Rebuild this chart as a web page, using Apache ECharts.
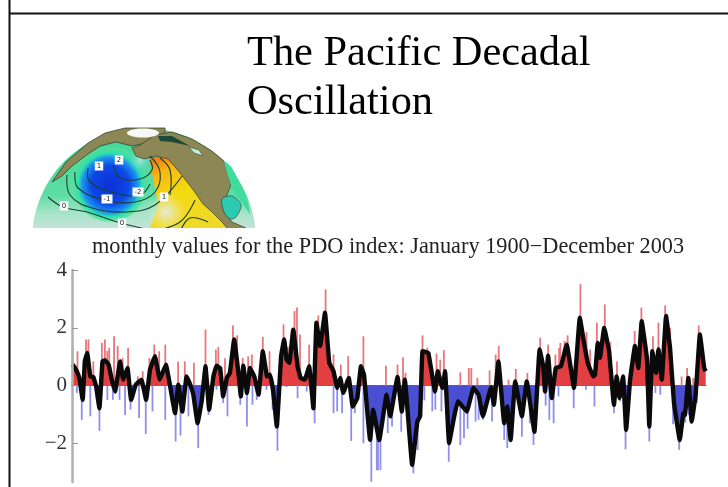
<!DOCTYPE html>
<html><head><meta charset="utf-8">
<style>html,body{margin:0;padding:0;background:#fff}#c{width:728px;height:487px}</style>
<script src="https://cdn.jsdelivr.net/npm/echarts@6/dist/echarts.min.js"></script>
</head><body><div id="c"></div>
<script>
const titleText = 'The Pacific Decadal\nOscillation';
const subtitleText = 'monthly values for the PDO index: January 1900\u2212December 2003';
const yTicks = [4, 2, 0, -2];

const smoothYears = [1900.1,1900.65,1901.2,1901.75,1902.1,1902.5,1903,1903.5,1903.95,1904.5,1905,1905.4,1906,1906.5,1907.05,1907.9,1908.4,1909.1,1909.7,1910.45,1911.4,1912.15,1912.8,1913.6,1914.4,1915.4,1916.1,1916.9,1917.45,1918.1,1918.8,1919.4,1919.9,1920.6,1921.3,1921.9,1922.5,1923.2,1923.7,1924.3,1924.8,1925.4,1925.9,1926.6,1927.3,1927.7,1928.1,1928.7,1929.2,1929.9,1930.6,1931.3,1932,1932.5,1933,1933.6,1934.3,1934.8,1935.2,1935.65,1936.3,1937,1937.5,1938.2,1938.9,1939.6,1940.1,1940.7,1941.5,1942.2,1942.9,1943.5,1944,1944.5,1945.4,1946.05,1946.8,1947.4,1947.9,1948.9,1949.4,1950.4,1951.6,1952.2,1953.4,1954.1,1954.6,1955.8,1956.65,1957.1,1957.5,1958.45,1959.55,1960,1960.75,1961.2,1961.85,1962.7,1963.3,1964.75,1965.85,1966.7,1967.4,1968.75,1969.2,1969.95,1970.9,1971.4,1971.95,1972.7,1973.8,1974.6,1975.85,1976.7,1977.3,1977.6,1978.1,1978.7,1979.35,1980.2,1981.15,1982.35,1983.3,1984,1984.6,1985.5,1985.8,1986.25,1986.6,1987.3,1988.1,1988.9,1989.35,1989.8,1990.4,1990.9,1991.55,1992.35,1992.9,1993.45,1994.3,1994.7,1995.2,1995.8,1996.2,1996.75,1997.45,1998.1,1998.75,1999.7,2000.3,2000.55,2001.1,2001.65,2002.3,2003,2003.7,2003.95];
const smoothValues = [.73,.56,.27,-.49,.84,1.13,.32,.3,-.02,-.78,.84,.88,.73,.23,-.2,.84,.21,.61,-.49,.03,.21,-.49,.56,1.02,.21,.73,-.02,-.95,.03,-.89,.32,.03,-.31,-1.3,-.49,.67,-.83,.32,.69,.61,-.37,.27,.44,1.6,.44,-.37,.69,-.25,.61,.32,-.31,1.19,.32,.38,-.2,-1.41,1.02,1.6,.9,.79,1.94,.67,.27,.21,.67,-.78,2.18,1.37,2.52,.79,.5,-.08,.27,-.25,.27,-.72,-.43,.67,.38,-1.88,-.83,-1.88,-.31,-1.06,.3,-.89,.21,-2.74,-1.24,-1.06,1.19,1.13,-.2,.5,-.08,.5,-1.99,-1.06,-.54,-.89,-.08,-.31,-1.06,-.05,-.66,.84,-1.3,-.72,-1.88,.15,-1.06,.15,-1.59,1.25,.67,-.2,1.04,-.43,.61,.67,1.42,-.08,2.35,1.48,.79,.32,.38,1.48,.96,2,1.19,-.66,.32,-.43,.32,-1.53,.21,1.37,.61,2.23,.96,-1.41,1.19,.44,1.25,.21,2.41,1.31,-.6,-1.88,-.95,-1.01,.27,-1.24,-.31,1.77,.61,.5];

const spikeUpYears = [1900.1,1900.9,1902.3,1902.7,1903.5,1904.9,1905.4,1905.8,1906.1,1906.9,1907.5,1908.3,1909.2,1910.8,1911.6,1912.7,1913.5,1914.3,1915.3,1917.4,1918.5,1920.0,1921.9,1923.6,1924.0,1925.1,1926.4,1927.1,1928.0,1928.9,1929.5,1931.3,1932.4,1934.7,1935.4,1936.5,1936.9,1937.4,1938.9,1940.4,1941.6,1942.9,1944.1,1945.3,1947.8,1951.5,1953.4,1954.3,1954.7,1957.5,1958.3,1959.8,1960.4,1961.0,1963.7,1965.1,1965.5,1966.5,1968.5,1969.5,1970.0,1971.6,1972.8,1974.7,1976.8,1978.1,1979.3,1979.9,1980.1,1980.8,1981.3,1983.4,1984.4,1985.0,1986.1,1987.4,1988.3,1989.4,1991.6,1992.3,1993.4,1993.9,1995.3,1996.2,1997.3,1998.1,2000.0,2000.9,2001.9,2002.8,2003.2];
const spikeUpValues = [1.31,1.19,1.6,1.6,.84,1.48,1.6,1.2,1.31,1.71,1.37,.96,1.31,.32,.5,.96,1.42,1.19,1.42,.84,.84,.79,1.94,1.25,1.34,.95,2.08,1.74,.96,1.02,1.08,1.69,1.19,2.12,1.35,2.58,2.7,1.77,1.42,2.43,3.33,1.08,.73,1.02,1.71,.69,.73,.98,.44,1.74,1.31,1.11,.9,1.23,.46,.61,.61,.27,.53,1.08,1.37,.21,.58,.44,1.66,1.42,1.08,1.3,1.48,1.55,1.74,3.51,1.85,1.25,2.18,2.81,1.5,.84,.61,1.89,2.7,1.75,1.71,2.18,2.78,2.0,.32,.61,.27,2.08,1.4];
const spikeDownYears = [1900.8,1901.6,1903.0,1904.5,1905.8,1906.7,1907.8,1908.7,1909.6,1911.0,1912.1,1913.2,1915.3,1917.0,1917.8,1919.1,1920.7,1922.4,1923.7,1924.8,1925.5,1927.6,1928.7,1929.6,1930.3,1931.9,1932.9,1933.7,1935.2,1937.0,1938.5,1939.8,1942.9,1943.5,1944.3,1945.8,1946.4,1947.8,1948.4,1949.1,1950.0,1950.2,1950.6,1951.8,1952.5,1954.0,1956.0,1956.7,1957.8,1959.1,1959.6,1960.6,1961.8,1962.5,1963.7,1964.3,1964.9,1966.2,1966.7,1967.4,1968.9,1970.9,1971.4,1972.1,1973.8,1975.1,1975.7,1977.7,1978.3,1979.0,1979.8,1982.3,1984.3,1985.7,1988.9,1989.9,1990.8,1994.7,1995.7,1996.5,1998.6,1999.6,2000.6,2001.2,2002.5];
const spikeDownValues = [-.25,-1.18,-1.06,-1.56,-.49,-.49,-.49,-1.01,-.83,-1.12,-1.67,-.89,-1.18,-1.93,-1.72,-1.06,-2.16,-1.01,-.14,-.6,-1.06,-.66,-1.41,-.66,-.49,-.14,-.83,-2.25,-.05,-.43,-.2,-1.3,-.95,-.89,-.95,-1.91,-.95,-1.99,-1.3,-3.32,-2.92,-2.92,-2.92,-1.64,-1.41,-1.59,-3.03,-2.22,-.51,-.89,-.83,-.89,-2.63,-1.53,-2.05,-1.82,-1.49,-1.24,-1.18,-1.18,-1.24,-1.88,-2.16,-1.93,-1.76,-1.3,-2.05,-.69,-1.18,-1.3,-.37,-.78,-.14,-.72,-.95,-.54,-2.2,-1.93,-.25,-.31,-1.33,-2.22,-1.27,-1.01,-.6];

const zip = (a, b) => a.map((v, i) => [v, b[i]]);
const smooth = zip(smoothYears, smoothValues);

const LAND = '#8d8655', CONT = '#1c3f33';
function contour(pts, w) {
  return { type:'polyline', z:5, shape:{points:pts, smooth:0.4}, style:{stroke:CONT, lineWidth:w||1.1, fill:null} };
}
function tag(x, y, t) {
  return { type:'text', z:7, x:x, y:y, style:{text:t, font:'7px "DejaVu Sans"', fill:'#223', backgroundColor:'#fff', padding:[1,2], align:'center', verticalAlign:'middle'} };
}
function grad(stops){ return { type:'radial', x:.5, y:.5, r:.5, colorStops:stops.map(s=>({offset:s[0], color:s[1]})) }; }

const globe = [
  { type:'circle', z:1, shape:{cx:144,cy:240,r:112}, style:{fill:{type:'linear',x:0,y:0,x2:0,y2:1,colorStops:[{offset:0,color:'#3fd899'},{offset:.3,color:'#5fdca4'},{offset:.38,color:'#a5e4c8'},{offset:.45,color:'#c5e3d8'},{offset:1,color:'#cfe2e2'}]}} },
  { type:'polygon', z:2, shape:{points:[[150,158],[170,158],[190,180],[215,212],[228,232],[150,232],[158,205]], smooth:0.15}, style:{fill:{type:'linear',x:0,y:0,x2:.6,y2:1,colorStops:[{offset:0,color:'#f06a10'},{offset:.22,color:'#f7b814'},{offset:.5,color:'#f4d90e'},{offset:1,color:'#efd92a'}]}} },
  { type:'ellipse', z:3, shape:{cx:166,cy:212,rx:22,ry:20}, style:{fill:grad([[0,'rgba(225,235,225,.95)'],[1,'rgba(235,235,190,0)']])} },
  { type:'ellipse', z:3, shape:{cx:110,cy:185,rx:70,ry:38}, rotation:-0.12, originX:110, originY:185, style:{fill:grad([[0,'#0a30d8'],[.5,'#0d48e4'],[.72,'#1a90ee'],[.84,'#2ee0b0'],[.94,'rgba(70,225,150,.7)'],[1,'rgba(120,230,170,0)']])} },
  { type:'ellipse', z:3, shape:{cx:140,cy:160,rx:25,ry:13}, style:{fill:grad([[0,'rgba(170,235,210,.95)'],[1,'rgba(60,200,220,0)']])} },
  { type:'polygon', z:4, shape:{points:[[52,182],[66,162],[88,143],[105,133],[125,128],[165,128],[165,140],[150,142],[132,146],[116,142],[100,146],[88,154],[72,166],[62,176]]}, style:{fill:LAND, stroke:'#243a2a', lineWidth:.7} },
  { type:'polygon', z:4, shape:{points:[[132,148],[140,145],[155,135],[172,132],[192,139],[212,151],[224,161],[231,185],[226,197],[224,212],[232,222],[246,228],[246,234],[232,234],[222,222],[212,212],[203,204],[194,191],[184,178],[176,168],[168,159],[156,156],[144,159],[136,156]]}, style:{fill:LAND, stroke:'#2c2a18', lineWidth:.6} },
  { type:'ellipse', z:5, shape:{cx:143,cy:133,rx:16,ry:4.5}, style:{fill:'#f6f8f6'} },
  { type:'polygon', z:5, shape:{points:[[222,199],[232,196],[241,205],[236,217],[230,219],[224,212]], smooth:.3}, style:{fill:'#2ccab0', stroke:'#2c3a20', lineWidth:.6} },
  { type:'polygon', z:5, shape:{points:[[224,161],[232,168],[246,196],[250,214],[243,204],[233,190]], smooth:.2}, style:{fill:'#3fdca0'} },
  { type:'polygon', z:5, shape:{points:[[189,147],[199,150],[203,156],[194,153]]}, style:{fill:'#c8ecd8', stroke:'#1a3a2a', lineWidth:.5} },
  { type:'polygon', z:5, shape:{points:[[158,136],[172,136],[190,146],[172,142],[160,141]]}, style:{fill:'#1c4a38'} },
  contour([[48,197],[63,207],[87,212],[117,222],[150,230]]),
  contour([[67,175],[70,195],[92,208],[125,212],[155,205],[182,176]]),
  contour([[75,172],[78,188],[105,200],[135,202],[155,192],[160,172],[150,156]]),
  contour([[88,168],[90,182],[115,193],[140,195],[150,184]]),
  contour([[113,165],[120,178],[140,179],[152,170],[150,160]]),
  contour([[150,232],[180,222],[195,200]]),
  contour([[180,232],[190,218],[208,222]]),
  contour([[160,158],[170,170],[170,195]]),
  tag(64,206,'0'), tag(122,223,'0'), tag(107,199,'-1'), tag(138,192,'-2'), tag(164,197,'1'), tag(99,166,'1'), tag(119,160,'2'),
  { type:'rect', z:8, shape:{x:12,y:228,width:716,height:130}, style:{fill:'#fff'} },
  { type:'line', z:40, shape:{x1:9.5,y1:0,x2:9.5,y2:487}, style:{stroke:'#111',lineWidth:2} },
  { type:'line', z:40, shape:{x1:9,y1:13.5,x2:728,y2:13.5}, style:{stroke:'#111',lineWidth:2} }
];

const chart = echarts.init(document.getElementById('c'), null, {renderer:'canvas'});
const serif = '"Liberation Serif","Times New Roman",serif';
chart.setOption({
  animation:false,
  backgroundColor:'#fff',
  title:[
    { text:titleText, left:247, top:29, padding:0, z:30, textStyle:{fontFamily:serif,fontWeight:'normal',fontSize:42.4,lineHeight:49,color:'#000'} },
    { text:subtitleText, left:388, top:236, padding:0, z:30, textAlign:'center', textStyle:{fontFamily:serif,fontWeight:'normal',fontSize:22.3,color:'#222'} }
  ],
  graphic:{elements:globe},
  grid:{left:72,right:22,top:270,height:212,containLabel:false},
  visualMap:{show:false,type:'piecewise',seriesIndex:2,dimension:1,pieces:[{min:-10,max:0,color:'#4a4fd2'},{min:0,max:10,color:'#e13f42'}]},
  xAxis:{type:'value',min:1900,max:2004,show:true,z:30,splitLine:{show:false},axisTick:{show:false},axisLabel:{show:false},
    axisLine:{onZero:true,lineStyle:{color:'#555',width:1}}},
  yAxis:{type:'value',min:-3.33,max:4,z:35,splitLine:{show:false},
    axisLine:{show:true,onZero:false,lineStyle:{color:'#b0b0b0',width:2.5}},
    axisTick:{show:true,inside:true,length:6,customValues:yTicks,lineStyle:{color:'#999',width:1}},
    axisLabel:{margin:5,customValues:yTicks,fontFamily:serif,fontSize:21,color:'#333',formatter:v=>String(v).replace('-','\u2212')}},
  series:[
    {type:'bar',name:'up',data:zip(spikeUpYears,spikeUpValues),barWidth:1.8,barGap:'-100%',itemStyle:{color:'#e8777c'},z:30,silent:true},
    {type:'bar',name:'down',data:zip(spikeDownYears,spikeDownValues),barWidth:1.8,barGap:'-100%',itemStyle:{color:'#8f8fea'},z:30,silent:true},
    {type:'line',name:'fill',data:smooth,symbol:'none',smooth:0.08,lineStyle:{width:0},areaStyle:{opacity:1},z:31,silent:true},
    {type:'line',name:'smoothed',data:smooth,symbol:'none',smooth:0.08,lineStyle:{color:'#0a0a0a',width:4.4,join:'round'},z:32,silent:true}
  ]
});
</script></body></html>
